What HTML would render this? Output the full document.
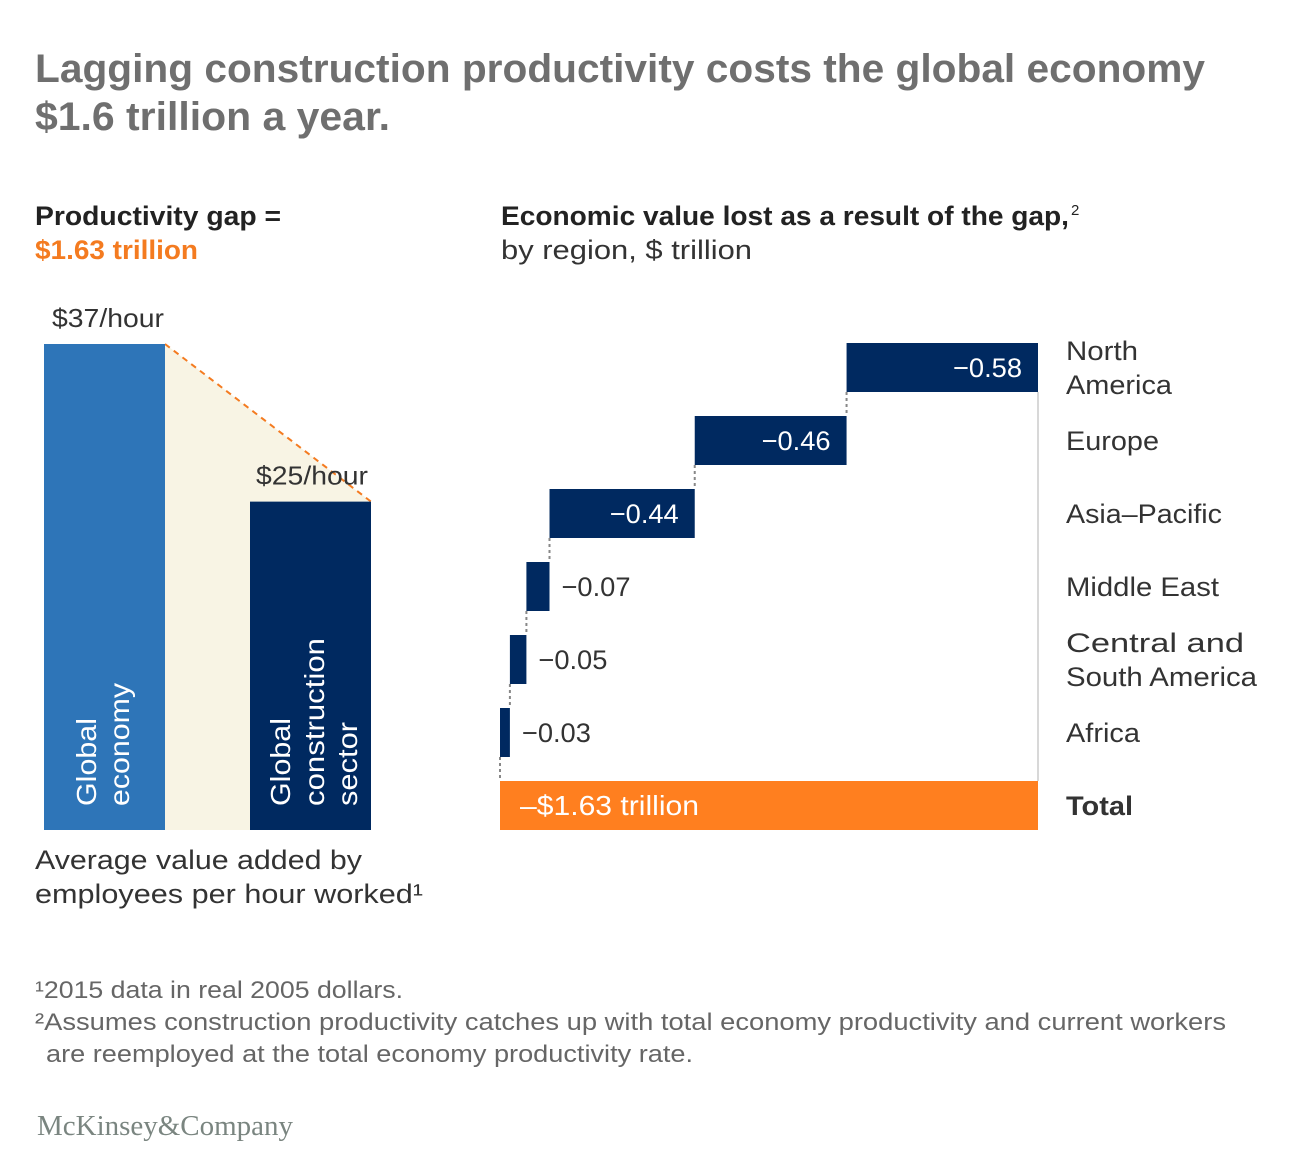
<!DOCTYPE html>
<html><head><meta charset="utf-8"><style>
html,body{margin:0;padding:0;background:#fff;}
svg{display:block;font-family:"Liberation Sans",Arial,sans-serif;}
</style></head><body>
<svg id="chart" width="1306" height="1168" viewBox="0 0 1306 1168">
<text x="35" y="82" font-size="40" font-weight="bold" fill="#6f6f6f" textLength="1170" lengthAdjust="spacingAndGlyphs">Lagging construction productivity costs the global economy</text>
<text x="35" y="130" font-size="40" font-weight="bold" fill="#6f6f6f" textLength="355" lengthAdjust="spacingAndGlyphs">$1.6 trillion a year.</text>
<text x="35" y="225" font-size="27" font-weight="bold" fill="#222" textLength="246" lengthAdjust="spacingAndGlyphs">Productivity gap =</text>
<text x="35" y="259" font-size="27" font-weight="bold" fill="#f47b20" textLength="163" lengthAdjust="spacingAndGlyphs">$1.63 trillion</text>
<text x="501" y="225" font-size="27" font-weight="bold" fill="#222" textLength="568" lengthAdjust="spacingAndGlyphs">Economic value lost as a result of the gap,</text>
<text x="1071" y="215" font-size="15" fill="#222">2</text>
<text x="501" y="259" font-size="27" fill="#333" textLength="251" lengthAdjust="spacingAndGlyphs">by region, $ trillion</text>
<g id="left"></g>
<g id="right"></g>
<text x="35" y="869" font-size="27" fill="#333" textLength="327" lengthAdjust="spacingAndGlyphs">Average value added by</text>
<text x="35" y="903" font-size="27" fill="#333" textLength="388" lengthAdjust="spacingAndGlyphs">employees per hour worked¹</text>
<text x="35" y="998" font-size="24" fill="#666" textLength="368" lengthAdjust="spacingAndGlyphs">¹2015 data in real 2005 dollars.</text>
<text x="35" y="1030" font-size="24" fill="#666" textLength="1191" lengthAdjust="spacingAndGlyphs">²Assumes construction productivity catches up with total economy productivity and current workers</text>
<text x="46" y="1062" font-size="24" fill="#666" textLength="647" lengthAdjust="spacingAndGlyphs">are reemployed at the total economy productivity rate.</text>
<text x="37" y="1135" font-size="28" fill="#7a8580" font-family="Liberation Serif,serif" textLength="256" lengthAdjust="spacingAndGlyphs">McKinsey&amp;Company</text>
</svg>
<script>
const NS="http://www.w3.org/2000/svg";
// Left chart data
const hourLabels=["Global economy","Global construction sector"];
const hourValues=[37,25];
// Waterfall data
const regions=[["North","America"],["Europe"],["Asia–Pacific"],["Middle East"],["Central and","South America"],["Africa"]];
const losses=[0.58,0.46,0.44,0.07,0.05,0.03];
const totalLabel="–$1.63 trillion";

const regionWidths=[[72,106],[93],[156],[153],[178,191],[74]];
function mk(tag,attrs,parent){const e=document.createElementNS(NS,tag);for(const k in attrs)e.setAttribute(k,attrs[k]);parent.appendChild(e);return e;}
// left
const L=document.getElementById('left');
const base=830, lScale=486/37;
const ly=v=>base-v*lScale;
const x0=44,x1=250,bw=121;
const yg=ly(hourValues[0]), yc=ly(hourValues[1]);
let p=mk('polygon',{points:`${x0+bw},${yg} ${x1+bw},${yc} ${x1},${yc} ${x1},${base} ${x0+bw},${base}`,fill:'#f8f4e4'},L);


let dl=mk('line',{x1:x0+bw,y1:yg,x2:x1+bw,y2:yc,stroke:'#f47b20','stroke-width':2,'stroke-dasharray':'6,5'},L);


const lx=[x0,x1], lcol=['#2e75b8','#002960'];
const lines=[["Global","economy"],["Global","construction","sector"]];
const lineX=[[96,129],[290,324,357]];
const lineW=[[88,123],[88,168,84]];
hourValues.forEach((v,i)=>{
  const r=mk('rect',{x:lx[i],y:ly(v),width:bw,height:base-ly(v),fill:lcol[i]},L);
  
  
  const t=mk('text',{x:lx[i]+(i?6:8),y:ly(v)-17,'font-size':26,fill:'#333',textLength:112,lengthAdjust:'spacingAndGlyphs'},L);
  t.textContent='$'+v+'/hour';
  
  
  lines[i].forEach((s,j)=>{
    const cx=lineX[i][j], cy=806;
    const tt=mk('text',{x:cx,y:cy,'font-size':28,fill:'#fff',transform:`rotate(-90 ${cx} ${cy})`,textLength:lineW[i][j],lengthAdjust:'spacingAndGlyphs'},L);
    tt.textContent=s;
    
    
  });
});
// right waterfall
const R=document.getElementById('right');
const total=losses.reduce((a,b)=>a+b,0);
const rx0=500, rx1=1038, rScale=(rx1-rx0)/1.63;
const xs=v=>rx0+v*rScale;
const rowY=i=>343+i*73, bh=49;
let cum=total;
let gl=mk('line',{x1:rx1,y1:rowY(0)+bh,x2:rx1,y2:rowY(6),stroke:'#ccc','stroke-width':1.5},R);


losses.forEach((v,i)=>{
  const right=xs(cum), left=xs(cum-v); cum-=v;
  const y=rowY(i);
  const r=mk('rect',{x:left,y:y,width:right-left,height:bh,fill:'#002960'},R);
  
  
  const c=mk('line',{x1:left,y1:y+bh,x2:left,y2:y+73,stroke:'#888','stroke-width':2,'stroke-dasharray':'3,3'},R);
  
  
  const inside=(right-left)>100;
  const t=mk('text',{x:inside?right-16:right+12,y:y+34,'font-size':27,fill:inside?'#fff':'#333','text-anchor':inside?'end':'start',textLength:69,lengthAdjust:'spacingAndGlyphs'},R);
  t.textContent='−'+v.toFixed(2);
  
  
  const n=regions[i].length;
  regions[i].forEach((s,j)=>{
    const ty=(n===2?y+17:y+34)+j*34;
    const tt=mk('text',{x:1066,y:ty,'font-size':27,fill:'#333',textLength:regionWidths[i][j],lengthAdjust:'spacingAndGlyphs'},R);
    tt.textContent=s;
    
    
  });
});
const ty=rowY(6);
const tr=mk('rect',{x:xs(0),y:ty,width:xs(total)-xs(0),height:bh,fill:'#ff7f1f'},R);


const tt=mk('text',{x:xs(0)+20,y:ty+34,'font-size':28,fill:'#fff',textLength:179,lengthAdjust:'spacingAndGlyphs'},R);
tt.textContent=totalLabel;


const tl=mk('text',{x:1066,y:ty+34,'font-size':27,'font-weight':'bold',fill:'#333',textLength:67,lengthAdjust:'spacingAndGlyphs'},R);
tl.textContent='Total';


</script>
</body></html>
